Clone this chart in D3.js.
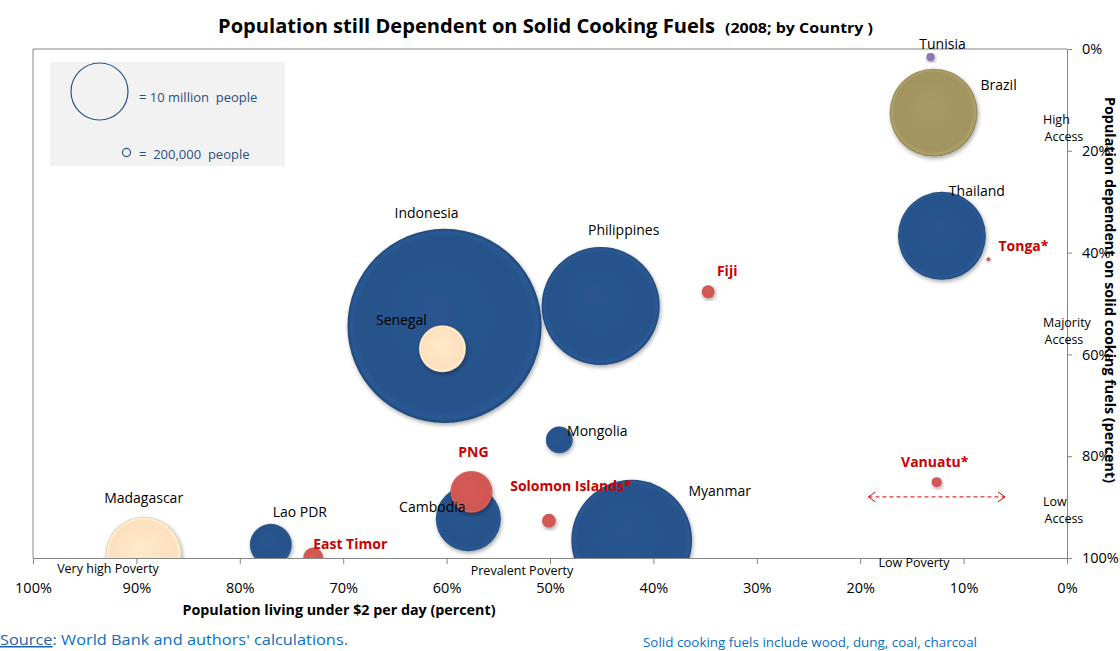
<!DOCTYPE html>
<html>
<head>
<meta charset="utf-8">
<script src="https://cdn.jsdelivr.net/npm/d3@7"></script>
<style>
	body { margin: 0; background: #fff; }
	svg { display: block; font-family: 'Open Sans', sans-serif; }
</style>
</head>
<body>
<script>
// data
const countries = ['Indonesia', 'Myanmar', 'Philippines', 'Brazil', 'Thailand', 'Madagascar', 'Cambodia',
	'Senegal', 'Lao PDR', 'PNG', 'Mongolia', 'East Timor', 'Solomon Islands*', 'Fiji', 'Vanuatu*', 'Tunisia', 'Tonga*'];
const poverty = [60.2, 42.1, 45.1, 12.9, 12.1, 89.3, 57.9, 60.4, 77.0, 57.6, 49.1, 72.9, 50.1, 34.7, 12.6, 13.2, 7.6];
const solidFuel = [54.4, 96.5, 50.5, 12.5, 36.7, 99.4, 92.3, 58.9, 97.4, 87.0, 76.8, 99.9, 92.7, 47.7, 85.1, 1.6, 41.3];
const popMillions = [116, 44.8, 42.9, 23.8, 23.8, 17.8, 13.0, 6.8, 5.4, 5.4, 2.2, 1.2, 0.6, 0.52, 0.31, 0.2, 0.05];
const region = ['asia', 'asia', 'asia', 'latam', 'asia', 'africa', 'asia', 'africa', 'asia', 'pacific', 'asia',
	'pacific', 'pacific', 'pacific', 'pacific', 'mena', 'pacific'];

const xTicks = [100, 90, 80, 70, 60, 50, 40, 30, 20, 10, 0];
const yTicks = [0, 20, 40, 60, 80, 100];
const legendSizes = [10, 0.2];
const legendLabels = ['= 10 million  people', '=  200,000  people'];

const regionColors = {
	asia: '#27528a',
	africa: '#fde0bf',
	pacific: '#cf5752',
	latam: '#a19460',
	mena: '#8a73b0'
};

// where each label sits relative to its bubble centre
const labelOffset = {
	'Indonesia': [-18, -108], 'Senegal': [-41, -24], 'Philippines': [23, -71], 'Mongolia': [38, -4],
	'PNG': [2, -35], 'Cambodia': [-36, -7], 'Solomon Islands*': [22, -30], 'Myanmar': [88, -44],
	'Fiji': [19, -16], 'Madagascar': [0, -52], 'Lao PDR': [29, -28], 'East Timor': [37, -8],
	'Tunisia': [12, -8], 'Brazil': [65, -23], 'Thailand': [35, -40], 'Tonga*': [35, -8], 'Vanuatu*': [-2, -15]
};

const width = 1120, height = 651;
const plot = { left: 33, right: 1067, top: 49, bottom: 558 };

const data = countries.map((c, i) => ({
	name: c,
	pov: poverty[i],
	fuel: solidFuel[i],
	pop: popMillions[i],
	region: region[i]
}));

const x = d3.scaleLinear().domain([100, 0]).range([plot.left, plot.right]);
const y = d3.scaleLinear().domain([0, 100]).range([plot.top, plot.bottom]);
const r = d3.scaleSqrt().domain([0, 10]).range([0, 28.5]);

const svg = d3.select('body').append('svg')
	.attr('width', width)
	.attr('height', height);

const defs = svg.append('defs');

defs.append('clipPath').attr('id', 'plotClip')
	.append('rect')
	.attr('x', plot.left).attr('y', plot.top)
	.attr('width', plot.right - plot.left).attr('height', plot.bottom - plot.top);

const shadow = defs.append('filter').attr('id', 'shadow')
	.attr('x', '-20%').attr('y', '-20%').attr('width', '140%').attr('height', '140%');
shadow.append('feGaussianBlur').attr('in', 'SourceAlpha').attr('stdDeviation', 2);
shadow.append('feOffset').attr('dx', 1).attr('dy', 2).attr('result', 'off');
shadow.append('feComponentTransfer').append('feFuncA').attr('type', 'linear').attr('slope', 0.35);
const merge = shadow.append('feMerge');
merge.append('feMergeNode');
merge.append('feMergeNode').attr('in', 'SourceGraphic');

Object.entries(regionColors).forEach(([key, col]) => {
	const g = defs.append('radialGradient').attr('id', 'grad-' + key)
		.attr('cx', '50%').attr('cy', '50%').attr('r', '50%')
		.attr('fx', '45%').attr('fy', '40%');
	g.append('stop').attr('offset', '0%').attr('stop-color', d3.color(col).brighter(0.12));
	g.append('stop').attr('offset', '88%').attr('stop-color', col);
	g.append('stop').attr('offset', '96%').attr('stop-color', d3.color(col).brighter(0.22));
	g.append('stop').attr('offset', '100%').attr('stop-color', d3.color(col).darker(0.5));
});

// title
const title = svg.append('text')
	.attr('x', 218).attr('y', 33)
	.style('font-weight', 'bold');
title.append('tspan')
	.style('font-size', '20px')
	.attr('textLength', 497).attr('lengthAdjust', 'spacingAndGlyphs')
	.text('Population still Dependent on Solid Cooking Fuels');
title.append('tspan')
	.attr('x', 725)
	.style('font-size', '14px')
	.attr('textLength', 148).attr('lengthAdjust', 'spacingAndGlyphs')
	.text('(2008; by Country )');

// legend
const legend = svg.append('g');
legend.append('rect')
	.attr('x', 50).attr('y', 62).attr('width', 235).attr('height', 104)
	.attr('fill', '#f2f2f2');
legend.selectAll('circle')
	.data(legendSizes)
	.enter()
	.append('circle')
	.attr('cx', (d, i) => i === 0 ? 99.5 : 126.5)
	.attr('cy', (d, i) => i === 0 ? 91.5 : 152.5)
	.attr('r', d => r(d))
	.attr('fill', 'none')
	.attr('stroke', '#2b5281')
	.attr('stroke-width', 1.2);
legend.selectAll('text')
	.data(legendLabels)
	.enter()
	.append('text')
	.attr('x', 139)
	.attr('y', (d, i) => i === 0 ? 102 : 159)
	.attr('fill', '#2b4f80')
	.style('font-size', '13px')
	.style('white-space', 'pre')
	.text(d => d);

// bubbles
const bubbles = svg.append('g').attr('clip-path', 'url(#plotClip)');
bubbles.selectAll('circle')
	.data(data.slice().sort((a, b) => b.pop - a.pop))
	.enter()
	.append('circle')
	.attr('cx', d => x(d.pov))
	.attr('cy', d => y(d.fuel))
	.attr('r', d => Math.max(r(d.pop), 2))
	.attr('fill', d => 'url(#grad-' + d.region + ')')
	.attr('filter', 'url(#shadow)');

// frame
svg.append('path')
	.attr('d', `M${plot.left},${plot.bottom}V${plot.top}H${plot.right}`)
	.attr('fill', 'none')
	.attr('stroke', '#868686');

const xAxis = svg.append('g')
	.attr('transform', `translate(0,${plot.bottom})`)
	.call(d3.axisBottom(x).tickValues(xTicks).tickSize(6).tickPadding(19).tickFormat(d => d + '%'));
const yAxis = svg.append('g')
	.attr('transform', `translate(${plot.right},0)`)
	.call(d3.axisRight(y).tickValues(yTicks).tickSize(5).tickPadding(10).tickFormat(d => d + '%'));

[xAxis, yAxis].forEach(ax => {
	ax.select('.domain').attr('stroke', '#868686');
	ax.selectAll('.tick line').attr('stroke', '#868686');
	ax.selectAll('.tick text')
		.attr('fill', '#000')
		.style('font-size', '14.5px')
		.style('font-family', "'Open Sans', sans-serif");
});
xAxis.selectAll('.tick text').attr('dy', '0.71em');

// quadrant notes
const quadNotes = [
	{ text: 'Very high Poverty', x: 108, y: 573 },
	{ text: 'Prevalent Poverty', x: 522, y: 575 },
	{ text: 'Low Poverty', x: 914, y: 567 }
];
svg.selectAll('.quad')
	.data(quadNotes)
	.enter()
	.append('text')
	.attr('class', 'quad')
	.attr('x', d => d.x).attr('y', d => d.y)
	.attr('text-anchor', 'middle')
	.style('font-size', '12.5px')
	.text(d => d.text);

const accessNotes = [
	{ lines: ['High', 'Access'], y: 124 },
	{ lines: ['Majority', 'Access'], y: 327 },
	{ lines: ['Low', 'Access'], y: 506 }
];
accessNotes.forEach(n => {
	const t = svg.append('text')
		.attr('x', 1043).attr('y', n.y)
		.style('font-size', '12.5px');
	n.lines.forEach((l, i) => {
		t.append('tspan')
			.attr('x', 1043 + i * 1.5)
			.attr('dy', i === 0 ? 0 : 16.5)
			.text(l);
	});
});

// axis titles
svg.append('text')
	.attr('x', 339).attr('y', 615)
	.attr('text-anchor', 'middle')
	.style('font-size', '13.5px')
	.style('font-weight', 'bold')
	.attr('textLength', 313).attr('lengthAdjust', 'spacingAndGlyphs')
	.text('Population living under $2 per day (percent)');

svg.append('text')
	.attr('transform', 'translate(1105,290) rotate(90)')
	.attr('text-anchor', 'middle')
	.style('font-size', '14px')
	.style('font-weight', 'bold')
	.attr('textLength', 386).attr('lengthAdjust', 'spacingAndGlyphs')
	.text('Population dependent on solid cooking fuels (percent)');

// dashed arrow for the pacific island note
const arrowY = y(88);
const arrowX0 = x(19.2), arrowX1 = x(6);
svg.append('line')
	.attr('x1', arrowX0).attr('x2', arrowX1)
	.attr('y1', arrowY).attr('y2', arrowY)
	.attr('stroke', '#d40000')
	.attr('stroke-dasharray', '4,3');
svg.append('path')
	.attr('d', `M${arrowX0 + 7},${arrowY - 5}L${arrowX0},${arrowY}L${arrowX0 + 7},${arrowY + 5}` +
		`M${arrowX1 - 7},${arrowY - 5}L${arrowX1},${arrowY}L${arrowX1 - 7},${arrowY + 5}`)
	.attr('fill', 'none')
	.attr('stroke', '#d40000');

// country labels
svg.selectAll('.label')
	.data(data)
	.enter()
	.append('text')
	.attr('class', 'label')
	.attr('x', d => x(d.pov) + labelOffset[d.name][0])
	.attr('y', d => y(d.fuel) + labelOffset[d.name][1])
	.attr('text-anchor', 'middle')
	.attr('fill', d => d.region === 'pacific' ? '#cc0000' : '#000')
	.style('font-size', d => d.region === 'pacific' ? '14px' : '14px')
	.style('font-weight', d => d.region === 'pacific' ? 'bold' : 'normal')
	.text(d => d.name);

// footer
const src = svg.append('text')
	.attr('x', 0).attr('y', 645)
	.attr('fill', '#0a6fc2')
	.style('font-size', '15px')
	.attr('textLength', 348).attr('lengthAdjust', 'spacingAndGlyphs');
src.append('tspan').style('text-decoration', 'underline').attr('fill', '#1f5fb0').text('Source');
src.append('tspan').text(": World Bank and authors' calculations.");

svg.append('text')
	.attr('x', 643).attr('y', 647)
	.attr('fill', '#0a6fc2')
	.style('font-size', '12px')
	.attr('textLength', 334).attr('lengthAdjust', 'spacingAndGlyphs')
	.text('Solid cooking  fuels include wood, dung, coal, charcoal');
</script>
</body>
</html>
